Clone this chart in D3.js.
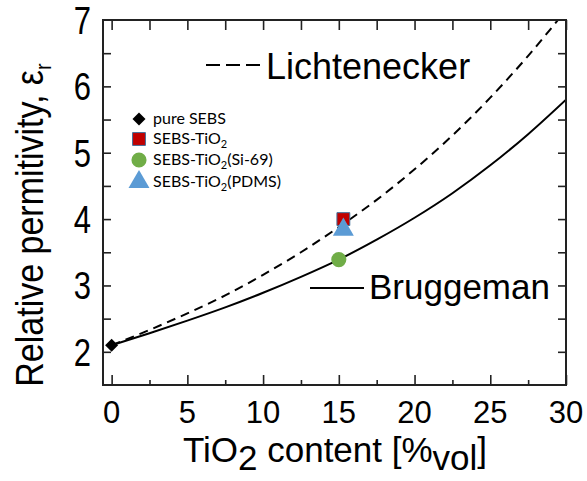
<!DOCTYPE html>
<html>
<head>
<meta charset="utf-8">
<script src="https://cdn.jsdelivr.net/npm/d3@7"></script>
<style>
  html, body { margin: 0; padding: 0; background: #fff; }
  svg { display: block; }
  text { font-family: Arial, "Liberation Sans", sans-serif; fill: #000; }
</style>
</head>
<body>
<svg id="chart" width="587" height="481"></svg>
<script>
// TiO2 volume fraction grid (%) for the mixing-rule curves
const phi = [0, 2.5, 5, 7.5, 10, 12.5, 15, 17.5, 20, 22.5, 25, 27.5, 30];
// Lichtenecker (logarithmic) mixing rule
const lichtenecker = [2.10, 2.33, 2.58, 2.85, 3.16, 3.50, 3.88, 4.29, 4.75, 5.26, 5.83, 6.46, 7.15];
// Bruggeman effective-medium estimate
const bruggeman = [2.10, 2.28, 2.47, 2.67, 2.89, 3.13, 3.39, 3.69, 4.02, 4.39, 4.81, 5.28, 5.80];

// Measured composites
const sampleBase = ["pure SEBS", "SEBS-TiO", "SEBS-TiO", "SEBS-TiO"];
const sampleSub = ["", "2", "2", "2"];
const sampleTail = ["", "", "(Si-69)", "(PDMS)"];
const sampleContent = [0, 15.3, 15.0, 15.3];
const samplePermittivity = [2.10, 4.00, 3.39, 3.84];
const sampleShape = ["diamond", "square", "circle", "triangle"];
const sampleFill = ["#000000", "#C00000", "#70AD47", "#5B9BD5"];
const sampleStroke = ["none", "#41719C", "none", "none"];
const sampleSize = [85, 165, 180, 190];

// Axis ticks
const xMajorTicks = [0, 5, 10, 15, 20, 25, 30];
const xMinorTicks = [2.5, 7.5, 12.5, 17.5, 22.5, 27.5];
const yTickLabels = [2, 3, 4, 5, 6, 7];
const yTicks = [2, 2.5, 3, 3.5, 4, 4.5, 5, 5.5, 6, 6.5];

const svg = d3.select("#chart");
const plotLeft = 103, plotRight = 566, plotTop = 20, plotBottom = 385;

const x = d3.scaleLinear().domain([-0.57, 30]).range([plotLeft, plotRight]);
const y = d3.scaleLinear().domain([1.5, 7]).range([plotBottom, plotTop]);

svg.append("defs").append("clipPath").attr("id", "plotArea")
  .append("rect").attr("x", plotLeft).attr("y", plotTop)
  .attr("width", plotRight - plotLeft).attr("height", plotBottom - plotTop);

// Model curves
const line = d3.line()
  .x(d => x(d[0]))
  .y(d => y(d[1]))
  .curve(d3.curveMonotoneX);

const curves = svg.append("g").attr("clip-path", "url(#plotArea)");
curves.append("path")
  .attr("d", line(d3.zip(phi, lichtenecker)))
  .attr("fill", "none").attr("stroke", "#000").attr("stroke-width", 2)
  .attr("stroke-dasharray", "9,6");
curves.append("path")
  .attr("d", line(d3.zip(phi, bruggeman)))
  .attr("fill", "none").attr("stroke", "#000").attr("stroke-width", 2);

// Frame with inward ticks on all four sides
const frame = svg.append("g");
const axisColor = "#222";

const bottomAxis = d3.axisBottom(x).tickValues(xMajorTicks).tickSizeInner(-10).tickSizeOuter(0).tickFormat("");
frame.append("g").attr("transform", `translate(0,${plotBottom})`).call(bottomAxis);
const bottomMinor = d3.axisBottom(x).tickValues(xMinorTicks).tickSizeInner(-5).tickSizeOuter(0).tickFormat("");
frame.append("g").attr("transform", `translate(0,${plotBottom})`).call(bottomMinor);

const topAxis = d3.axisTop(x).tickValues(xMajorTicks.concat(xMinorTicks)).tickSizeInner(-10).tickSizeOuter(0).tickFormat("");
frame.append("g").attr("transform", `translate(0,${plotTop})`).call(topAxis);

const leftAxis = d3.axisLeft(y).tickValues(yTicks).tickSizeInner(-8).tickSizeOuter(0).tickFormat("");
frame.append("g").attr("transform", `translate(${plotLeft},0)`).call(leftAxis);
const rightAxis = d3.axisRight(y).tickValues(yTicks).tickSizeInner(-8).tickSizeOuter(0).tickFormat("");
frame.append("g").attr("transform", `translate(${plotRight},0)`).call(rightAxis);

frame.selectAll(".domain").remove();
frame.selectAll(".tick line").attr("stroke", axisColor).attr("stroke-width", 1.6);

frame.append("rect")
  .attr("x", plotLeft).attr("y", plotTop)
  .attr("width", plotRight - plotLeft).attr("height", plotBottom - plotTop)
  .attr("fill", "none").attr("stroke", axisColor).attr("stroke-width", 2);

// Tick labels
svg.append("g").selectAll("text").data(xMajorTicks).join("text")
  .attr("x", d => x(d)).attr("y", 423)
  .attr("text-anchor", "middle")
  .style("font-size", "31px")
  .text(d => d);

svg.append("g").selectAll("text").data(yTickLabels).join("text")
  .attr("transform", d => `translate(91,${y(d)}) scale(1,1.25)`)
  .attr("text-anchor", "end")
  .attr("dy", "0.36em")
  .style("font-size", "31px")
  .text(d => d);

// Axis titles
const xTitle = svg.append("text")
  .attr("transform", "translate(335,462)")
  .attr("text-anchor", "middle")
  .style("font-size", "35px");
xTitle.append("tspan").text("TiO");
xTitle.append("tspan").attr("dy", 8).text("2");
xTitle.append("tspan").attr("dy", -8).text(" content [%");
xTitle.append("tspan").attr("dy", 8).text("vol");
xTitle.append("tspan").attr("dy", -8).text("]");

const yTitle = svg.append("text")
  .attr("transform", "translate(43,225) rotate(-90) scale(1,1.12)")
  .attr("text-anchor", "middle")
  .style("font-size", "34px");
yTitle.append("tspan").text("Relative permitivity, ε");
yTitle.append("tspan").attr("dy", 7).style("font-size", "20px").text("r");

// Curve labels with line samples
svg.append("line")
  .attr("x1", 206).attr("x2", 262).attr("y1", 65).attr("y2", 65)
  .attr("stroke", "#000").attr("stroke-width", 2)
  .attr("stroke-dasharray", "14,6");
svg.append("text").attr("x", 266).attr("y", 79)
  .style("font-size", "36px").text("Lichtenecker");

svg.append("line")
  .attr("x1", 310).attr("x2", 364).attr("y1", 288).attr("y2", 288)
  .attr("stroke", "#000").attr("stroke-width", 2);
svg.append("text").attr("x", 369).attr("y", 299)
  .style("font-size", "35px").text("Bruggeman");

// Markers (the diamond is a square turned by 45 degrees)
const symbolOf = {
  diamond: d3.symbolSquare,
  square: d3.symbolSquare,
  circle: d3.symbolCircle,
  triangle: d3.symbolTriangle
};
const turnOf = { diamond: 45, square: 0, circle: 0, triangle: 0 };

function drawSymbol(parent, i, cx, cy) {
  parent.append("path")
    .attr("transform", `translate(${cx},${cy}) rotate(${turnOf[sampleShape[i]]})`)
    .attr("d", d3.symbol().type(symbolOf[sampleShape[i]]).size(sampleSize[i])())
    .attr("fill", sampleFill[i])
    .attr("stroke", sampleStroke[i])
    .attr("stroke-width", 1);
}

const drawOrder = [0, 2, 1, 3];
const markers = svg.append("g");
drawOrder.forEach(i => drawSymbol(markers, i, x(sampleContent[i]), y(samplePermittivity[i])));

// Legend
const legendRows = [119, 139, 160, 182];
const legend = svg.append("g");
legendRows.forEach((ry, i) => {
  drawSymbol(legend, i, 139, ry);
  const t = legend.append("text")
    .attr("x", 153).attr("y", ry + 5)
    .style("font-family", "Lato, 'Open Sans', sans-serif")
    .style("font-size", "16px");
  t.append("tspan").text(sampleBase[i]);
  if (sampleSub[i]) {
    t.append("tspan").attr("dy", 4).style("font-size", "11px").text(sampleSub[i]);
    t.append("tspan").attr("dy", -4).text(sampleTail[i]);
  }
});
</script>
</body>
</html>
